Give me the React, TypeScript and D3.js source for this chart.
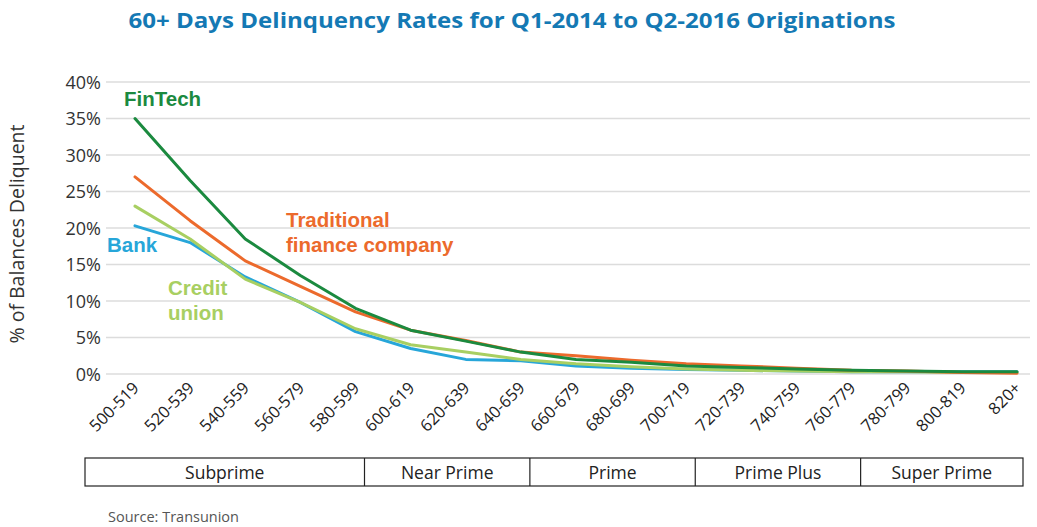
import React from 'react';
import * as d3 from 'd3';

const scoreBands = ['500-519', '520-539', '540-559', '560-579', '580-599', '600-619', '620-639', '640-659', '660-679', '680-699', '700-719', '720-739', '740-759', '760-779', '780-799', '800-819', '820+'];

const fintech = [35, 26.5, 18.5, 13.5, 9, 6, 4.5, 3, 2, 1.6, 1.1, 0.9, 0.7, 0.5, 0.4, 0.3, 0.3];
const traditional = [27, 21, 15.5, 12, 8.5, 6, 4.6, 3, 2.5, 1.9, 1.4, 1.1, 0.8, 0.5, 0.4, 0.2, 0.1];
const bank = [20.3, 18, 13.3, 9.8, 5.8, 3.5, 2, 1.8, 1.1, 0.8, 0.6, 0.5, 0.4, 0.3, 0.3, 0.3, 0.3];
const creditUnion = [23, 18.5, 13, 9.8, 6.2, 4, 3, 2, 1.4, 1.0, 0.7, 0.5, 0.4, 0.3, 0.3, 0.2, 0.2];

const yTicks = [0, 5, 10, 15, 20, 25, 30, 35, 40];

// tiers: first and last score band in each
const tiers = [
  { name: 'Subprime', from: 0, to: 4 },
  { name: 'Near Prime', from: 5, to: 7 },
  { name: 'Prime', from: 8, to: 10 },
  { name: 'Prime Plus', from: 11, to: 13 },
  { name: 'Super Prime', from: 14, to: 16 },
];

const series = [
  { name: 'Bank', values: bank, color: '#27a6d9' },
  { name: 'Credit union', values: creditUnion, color: '#a8cf62' },
  { name: 'Traditional finance company', values: traditional, color: '#ec6a2c' },
  { name: 'FinTech', values: fintech, color: '#1b8a3f' },
];

export default function App() {
  const W = 1037, H = 527;
  const x = d3.scalePoint<string>().domain(scoreBands).range([135, 1017]);
  const y = d3.scaleLinear().domain([0, 40]).range([374, 82]);

  const line = d3.line<number>()
    .x((_, i) => x(scoreBands[i])!)
    .y(d => y(d));

  const tierEdge = (i: number) => {
    if (i < 0) return x(scoreBands[0])! - 50;
    if (i === scoreBands.length - 1) return x(scoreBands[i])! + 6;
    return x(scoreBands[i])! + 9;
  };

  const labelFont = 'Liberation Sans, Arial, sans-serif';
  const bodyFont = 'Open Sans, sans-serif';

  return (
    <svg width={W} height={H} style={{ position: 'absolute', left: 0, top: 0, background: '#fff' }}>
      <text x={512} y={28} textAnchor="middle" fontFamily={bodyFont} fontWeight={700}
        fontSize={22} fill="#1479b4" textLength={767} lengthAdjust="spacingAndGlyphs">
        60+ Days Delinquency Rates for Q1-2014 to Q2-2016 Originations
      </text>

      {/* gridlines */}
      {yTicks.map(t => (
        <line key={t} x1={106} x2={1030} y1={y(t)} y2={y(t)} stroke="#dcdcdc" strokeWidth={1.5} />
      ))}
      {yTicks.map(t => (
        <text key={'l' + t} x={101} y={y(t) + 6.5} textAnchor="end" fontFamily={bodyFont}
          fontSize={18} fill="#333">{t}%</text>
      ))}
      <text transform="translate(24,234) rotate(-90)" textAnchor="middle" fontFamily={bodyFont}
        fontSize={19.5} fill="#333">% of Balances Deliquent</text>

      {/* lines */}
      {series.map(s => (
        <path key={s.name} d={line(s.values)!} fill="none" stroke={s.color} strokeWidth={3}
          strokeLinejoin="round" strokeLinecap="round" />
      ))}

      {/* x tick labels */}
      {scoreBands.map(b => (
        <text key={b} transform={`translate(${x(b)! + 5},${389}) rotate(-45)`} textAnchor="end"
          fontFamily={bodyFont} fontSize={16.5} fill="#222">{b}</text>
      ))}

      {/* tier boxes */}
      <rect x={tierEdge(-1)} y={458} width={tierEdge(16) - tierEdge(-1)} height={28} fill="none"
        stroke="#222" strokeWidth={1.2} />
      {tiers.slice(0, -1).map(t => (
        <line key={'d' + t.name} x1={tierEdge(t.to)} x2={tierEdge(t.to)} y1={458} y2={486}
          stroke="#222" strokeWidth={1.2} />
      ))}
      {tiers.map(t => (
        <text key={t.name} x={(tierEdge(t.from - 1) + tierEdge(t.to)) / 2} y={479} textAnchor="middle"
          fontFamily={bodyFont} fontSize={17.5} fill="#222">{t.name}</text>
      ))}

      {/* series labels */}
      <text x={124} y={106} fontFamily={labelFont} fontWeight="bold" fontSize={20.5} fill="#1b8a3f">FinTech</text>
      <text x={286} y={227} fontFamily={labelFont} fontWeight="bold" fontSize={20.5} fill="#ec6a2c">Traditional</text>
      <text x={286} y={252} fontFamily={labelFont} fontWeight="bold" fontSize={20.5} fill="#ec6a2c">finance company</text>
      <text x={107} y={252} fontFamily={labelFont} fontWeight="bold" fontSize={20.5} fill="#27a6d9">Bank</text>
      <text x={168} y={295} fontFamily={labelFont} fontWeight="bold" fontSize={20.5} fill="#a8cf62">Credit</text>
      <text x={168} y={320} fontFamily={labelFont} fontWeight="bold" fontSize={20.5} fill="#a8cf62">union</text>

      <text x={108} y={522} fontFamily={bodyFont} fontSize={14.5} fill="#555">Source: Transunion</text>
    </svg>
  );
}
